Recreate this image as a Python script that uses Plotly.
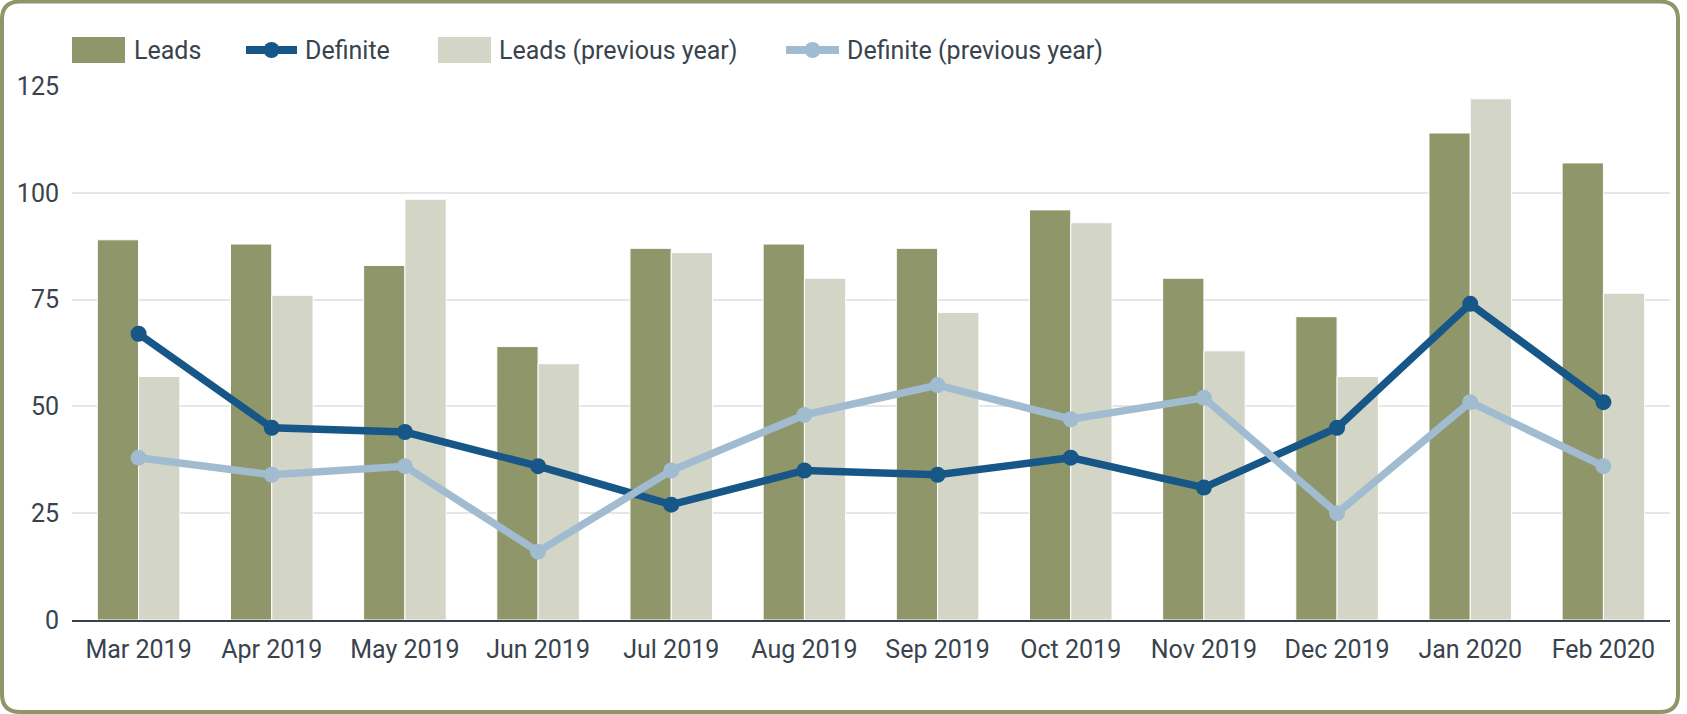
import plotly.graph_objects as go

months = ["Mar 2019", "Apr 2019", "May 2019", "Jun 2019", "Jul 2019", "Aug 2019",
          "Sep 2019", "Oct 2019", "Nov 2019", "Dec 2019", "Jan 2020", "Feb 2020"]
leads = [89, 88, 83, 64, 87, 88, 87, 96, 80, 71, 114, 107]
definite = [67, 45, 44, 36, 27, 35, 34, 38, 31, 45, 74, 51]
leads_prev = [57, 76, 98.5, 60, 86, 80, 72, 93, 63, 57, 122, 76.5]
definite_prev = [38, 34, 36, 16, 35, 48, 55, 47, 52, 25, 51, 36]
y_ticks = [0, 25, 50, 75, 100, 125]

OLIVE = "#8f966a"
OLIVE_LIGHT = "#d3d6c6"
BLUE = "#175788"
BLUE_LIGHT = "#a1bcd0"
TEXT = "#38434e"
FONT = "Roboto"
FS = 25

W, H = 1687, 714
L, R, T, B = 72, 17, 86, 94
PW, PH = W - L - R, H - T - B


def px(x):
    return (x - L) / PW


def py(y):
    return (H - B - y) / PH


fig = go.Figure()
fig.add_trace(go.Bar(x=months, y=leads, name="Leads", marker=dict(color=OLIVE, line=dict(color="white", width=1))))
fig.add_trace(go.Scatter(x=months, y=definite, name="Definite", mode="lines+markers",
                         line=dict(color=BLUE, width=7.5), marker=dict(size=16, color=BLUE)))
fig.add_trace(go.Bar(x=months, y=leads_prev, name="Leads (previous year)",
                     marker=dict(color=OLIVE_LIGHT, line=dict(color="white", width=1))))
fig.add_trace(go.Scatter(x=months, y=definite_prev, name="Definite (previous year)", mode="lines+markers",
                         line=dict(color=BLUE_LIGHT, width=7.5), marker=dict(size=16, color=BLUE_LIGHT)))

shapes = []
annotations = []
legend_items = [
    ("bar", OLIVE, "Leads", 72, 125, 132),
    ("line", BLUE, "Definite", 246, 297, 303),
    ("bar", OLIVE_LIGHT, "Leads (previous year)", 438, 491, 497),
    ("line", BLUE_LIGHT, "Definite (previous year)", 786, 839, 845),
]
ly = 50
for kind, col, label, x0, x1, tx in legend_items:
    if kind == "bar":
        shapes.append(dict(type="rect", xref="paper", yref="paper", x0=px(x0), x1=px(x1),
                           y0=py(ly - 13), y1=py(ly + 13), fillcolor=col, line=dict(width=0)))
    else:
        shapes.append(dict(type="line", xref="paper", yref="paper", x0=px(x0), x1=px(x1),
                           y0=py(ly), y1=py(ly), line=dict(color=col, width=8)))
        cx = (x0 + x1) / 2
        shapes.append(dict(type="circle", xref="paper", yref="paper", x0=px(cx - 8), x1=px(cx + 8),
                           y0=py(ly - 8), y1=py(ly + 8), fillcolor=col, line=dict(width=0)))
    annotations.append(dict(text=label, xref="paper", yref="paper", x=px(tx), y=py(ly + 1),
                            xanchor="left", yanchor="middle", showarrow=False,
                            font=dict(family=FONT, size=FS, color=TEXT)))

# rounded border
bx0, bx1, by0, by1, r = 2, 1678, 1.5, 712, 18
path = (f"M {px(bx0 + r)},{py(by0)} L {px(bx1 - r)},{py(by0)} "
        f"Q {px(bx1)},{py(by0)} {px(bx1)},{py(by0 + r)} "
        f"L {px(bx1)},{py(by1 - r)} Q {px(bx1)},{py(by1)} {px(bx1 - r)},{py(by1)} "
        f"L {px(bx0 + r)},{py(by1)} Q {px(bx0)},{py(by1)} {px(bx0)},{py(by1 - r)} "
        f"L {px(bx0)},{py(by0 + r)} Q {px(bx0)},{py(by0)} {px(bx0 + r)},{py(by0)} Z")
shapes.append(dict(type="path", xref="paper", yref="paper", path=path, line=dict(color=OLIVE, width=4)))

fig.update_layout(
    width=W, height=H,
    margin=dict(l=L, r=R, t=T, b=B),
    paper_bgcolor="white", plot_bgcolor="white",
    barmode="group", bargap=0.38, bargroupgap=0,
    showlegend=False,
    font=dict(family=FONT, size=FS, color=TEXT),
    shapes=shapes, annotations=annotations,
    xaxis=dict(showgrid=False, showline=True, linecolor="#36414c", linewidth=2,
               tickfont=dict(family=FONT, size=FS, color=TEXT), ticks="", ticklabelstandoff=6,
               range=[-0.5, 11.5]),
    yaxis=dict(range=[0, 125], tickvals=y_ticks, showgrid=True, gridcolor="#e6e6e6", gridwidth=2,
               zeroline=False, showline=False, ticks="", ticklabelstandoff=12,
               tickfont=dict(family=FONT, size=FS, color=TEXT)),
)

fig.write_html("out.html", config={"displayModeBar": False},
               post_script="document.body.style.margin='0';document.body.style.overflow='hidden';")
